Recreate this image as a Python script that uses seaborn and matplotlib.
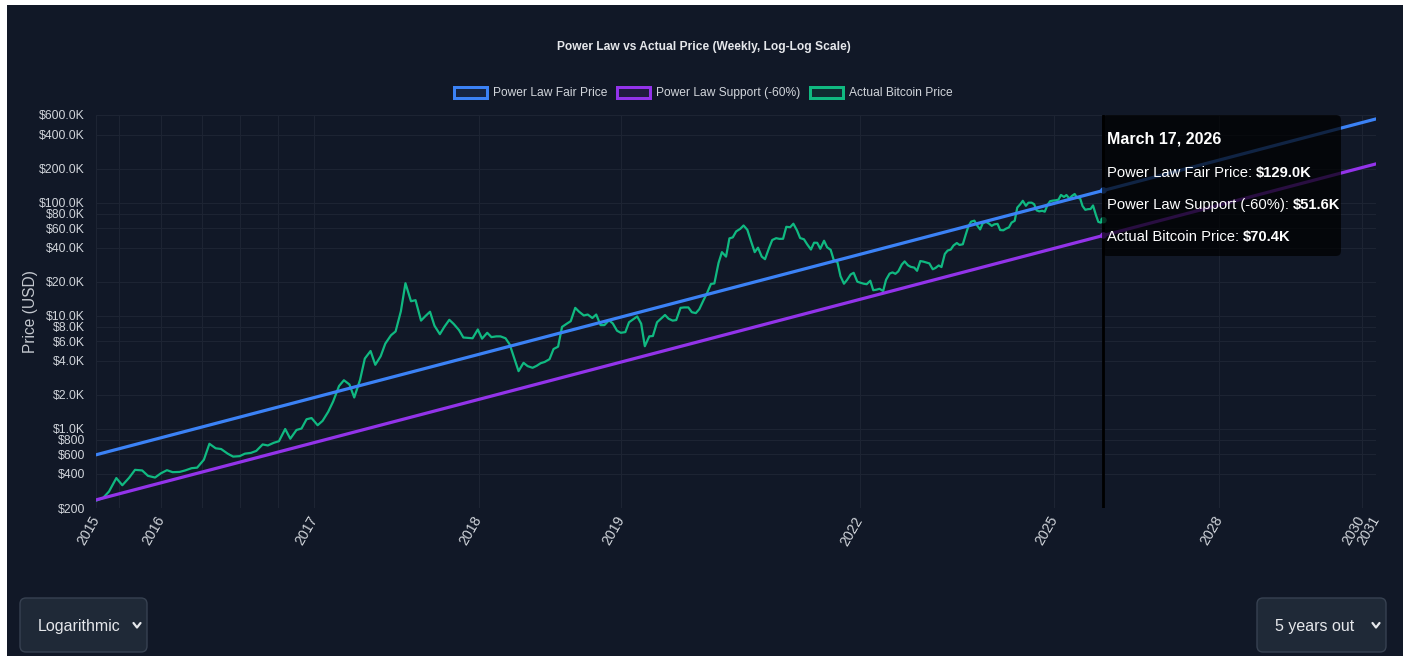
import sys
import numpy as np
import pandas as pd
import matplotlib
matplotlib.use("Agg")
import matplotlib.pyplot as plt
import seaborn as sns
from matplotlib.patches import Rectangle, FancyBboxPatch, Patch
from matplotlib.lines import Line2D
from matplotlib.transforms import IdentityTransform
from matplotlib.ticker import FixedLocator, FixedFormatter, NullFormatter
from matplotlib.colors import to_rgba

# ---------------- data ----------------
GENESIS = "2009-01-03"
TITLE = "Power Law vs Actual Price (Weekly, Log-Log Scale)"
series_names = ["Power Law Fair Price", "Power Law Support (-60%)", "Actual Bitcoin Price"]

# actual weekly-ish BTC price, sampled on the 1st and 15th of each month (USD)
price_2015 = [232, 245, 280, 368, 318, 370, 435]
price_2016 = [430, 385, 372, 405, 432, 415, 417, 430, 450, 455, 535, 740,
              675, 665, 605, 570, 575, 605, 615, 640, 730, 715, 755, 780]
price_2017 = [1000, 820, 980, 1010, 1220, 1250, 1080, 1180, 1420, 1750, 2400, 2700,
              2480, 1900, 2720, 4200, 4900, 3700, 4400, 5700, 6750, 7300, 11000, 19500]
price_2018 = [13500, 13800, 9100, 10000, 10900, 8200, 6900, 8000, 9250, 8500, 7500, 6450,
              6400, 6350, 7600, 6300, 7100, 6500, 6600, 6600, 6350, 5600, 4200, 3250]
price_2019 = [3850, 3600, 3480, 3620, 3820, 3920, 4150, 5100, 5350, 8000, 8550, 9000,
              11800, 10900, 10100, 10300, 9600, 10300, 8300, 8300, 9150, 8600, 7400, 7100]
price_2020 = [7200, 8800, 9400, 9900, 8550, 5400, 6600, 6650, 8800, 9400, 10200, 9450,
              9100, 9200, 11800, 11900, 11900, 10800, 10600, 11500, 13800, 15900, 19200, 19400]
price_2021 = [29400, 36700, 33500, 48600, 49600, 56000, 59000, 63200, 57800, 46800, 36700, 40200,
              33500, 31800, 39800, 47000, 48800, 48100, 48200, 61500, 61000, 65500, 57200, 48900]
price_2022 = [47700, 43100, 38700, 44500, 44400, 39300, 46300, 40500, 38500, 31300, 29800, 22500,
              19300, 20800, 23300, 24100, 20100, 19700, 19300, 19100, 20500, 16900, 17100, 17400]
price_2023 = [16600, 20900, 23700, 24300, 23600, 24800, 28500, 30400, 28100, 27200, 26800, 25100,
              30600, 30300, 29700, 29200, 25900, 26600, 28000, 27100, 35400, 37900, 38700, 42000]
price_2024 = [44200, 42500, 43100, 51800, 62400, 68400, 69700, 63400, 58300, 66200, 67800, 66000,
              62700, 64700, 65300, 57600, 57300, 59200, 60800, 67000, 69500, 91000, 97300, 104500]
price_2025 = [94400, 100500, 100600, 97600, 86000, 84300, 85200, 83700, 96500, 103700, 105000, 105500,
              107000, 117700, 113000, 117500, 109200, 115300, 120000, 111000, 110000, 94000, 87000, 88000]
price_2026 = [88500, 95000, 78000, 68000, 67000, 70400]
actual_start, actual_last_regular, actual_end = "2015-09-15", "2026-03-01", "2026-03-17"

# power-law lines (straight in log-log space)
fair_dates = ["2015-09-15", "2026-03-17", "2031-03-17"]
fair_price = [591, 129000, 554000]
support_price = [236, 51600, 221600]

# hover / tooltip
hover_date = "2026-03-17"
hover_title = "March 17, 2026"
hover_values = [129000, 51600, 70400]
hover_texts = ["$129.0K", "$51.6K", "$70.4K"]

# axis ticks
x_tick_days = [2446, 2600, 3000, 3500, 4000, 5000, 6000, 7000, 8000, 8108]
x_tick_labels = ["2015", "2016", "2017", "2018", "2019", "2022", "2025", "2028", "2030", "2031"]
x_minor_days = [2500, 2700, 2800, 2900]
y_tick_values = [200, 400, 600, 800, 1000, 2000, 4000, 6000, 8000, 10000, 20000,
                 40000, 60000, 80000, 100000, 200000, 400000, 600000]
y_tick_labels = ["$200", "$400", "$600", "$800", "$1.0K", "$2.0K", "$4.0K", "$6.0K", "$8.0K",
                 "$10.0K", "$20.0K", "$40.0K", "$60.0K", "$80.0K", "$100.0K", "$200.0K",
                 "$400.0K", "$600.0K"]
y_limits = [200, 600000]
dropdown_texts = ["Logarithmic", "5 years out"]

# ---------------- build frames ----------------
genesis = pd.Timestamp(GENESIS)
actual_price = (price_2015 + price_2016 + price_2017 + price_2018 + price_2019 + price_2020 +
                price_2021 + price_2022 + price_2023 + price_2024 + price_2025 + price_2026)
actual_dates = list(pd.date_range(actual_start, actual_last_regular, freq="SMS")) + [pd.Timestamp(actual_end)]
n = min(len(actual_dates), len(actual_price))
df_actual = pd.DataFrame({"day": [(d - genesis).days for d in actual_dates[:n]],
                          "price": actual_price[:n]})
fair_days = [(pd.Timestamp(d) - genesis).days for d in fair_dates]
df_lines = pd.DataFrame({"day": fair_days, "fair": fair_price, "support": support_price})
hover_day = (pd.Timestamp(hover_date) - genesis).days

# ---------------- style ----------------
W, H, DPI = 1407, 656, 100
BG = "#111827"
GRID = "#1d2433"
BLUE = "#3b82f6"
PURPLE = "#9333ea"
GREEN = "#10b981"
TXT = "#d1d5db"

sns.set_theme(style="dark")
plt.rcParams["font.family"] = ["Liberation Sans", "DejaVu Sans"]
plt.rcParams["axes.unicode_minus"] = False

def pt(px):
    return px * 72.0 / DPI

def fx(x):
    return x / W

def fy(y):
    return 1 - y / H

fig = plt.figure(figsize=(W / DPI, H / DPI), dpi=DPI, facecolor="white")
fig.patches.append(Rectangle((fx(7), 0), fx(1403) - fx(7), fy(5), transform=fig.transFigure,
                             facecolor=BG, edgecolor="none", zorder=-10))

ax = fig.add_axes([fx(96), fy(508), fx(1376) - fx(96), (508 - 115) / H])
ax.set_facecolor(BG)

sns.lineplot(data=df_actual, x="day", y="price", ax=ax, color=GREEN, lw=1.6,
             estimator=None, sort=False, zorder=2)
sns.lineplot(data=df_lines, x="day", y="support", ax=ax, color=PURPLE, lw=2.3,
             estimator=None, sort=False, zorder=3)
sns.lineplot(data=df_lines, x="day", y="fair", ax=ax, color=BLUE, lw=2.3,
             estimator=None, sort=False, zorder=4)

ax.set_xscale("log")
ax.set_yscale("log")
ax.set_xlim(x_tick_days[0], x_tick_days[-1])
ax.set_ylim(*y_limits)

ax.xaxis.set_major_locator(FixedLocator(x_tick_days))
ax.xaxis.set_major_formatter(FixedFormatter(x_tick_labels))
ax.xaxis.set_minor_locator(FixedLocator(x_minor_days))
ax.xaxis.set_minor_formatter(NullFormatter())
ax.yaxis.set_major_locator(FixedLocator(y_tick_values))
ax.yaxis.set_major_formatter(FixedFormatter(y_tick_labels))
ax.yaxis.set_minor_locator(FixedLocator([]))

ax.grid(True, which="both", axis="x", color=GRID, lw=0.8)
ax.grid(True, which="major", axis="y", color=GRID, lw=0.8)
for s in ax.spines.values():
    s.set_visible(False)
ax.tick_params(axis="x", which="both", length=pt(8), width=0.8, color=GRID, pad=1,
               labelsize=pt(14), labelcolor=TXT)
ax.tick_params(axis="y", which="both", length=0, pad=pt(11), labelsize=pt(12.3), labelcolor=TXT)
for lbl in ax.get_xticklabels():
    lbl.set_rotation(60)
    lbl.set_ha("right")
    lbl.set_va("center")
    lbl.set_rotation_mode("anchor")
ax.set_xlabel("")
ax.set_ylabel("")
leg0 = ax.get_legend()
if leg0 is not None:
    leg0.remove()

# hover line and points
ax.axvline(hover_day, color="black", lw=2, zorder=6)
ax.scatter([hover_day] * 3, hover_values, s=22, c=[BLUE, PURPLE, GREEN], zorder=7, linewidths=0)

# title
fig.text(fx(704), fy(47), TITLE, ha="center", va="center", fontsize=pt(12), fontweight="bold",
         color="#e5e7eb")

# legend
handles = [Patch(facecolor=to_rgba(c, 0.12), edgecolor=c, lw=pt(3)) for c in (BLUE, PURPLE, GREEN)]
fig.legend(handles, series_names, loc="center", bbox_to_anchor=(fx(703), fy(93)), ncol=3,
           frameon=False, fontsize=pt(12), labelcolor=TXT, handlelength=2.8, handleheight=1.1,
           handletextpad=0.45, columnspacing=0.8, borderaxespad=0)

# y label
fig.text(fx(31), fy(312), "Price (USD)", rotation=90, ha="center", va="center",
         fontsize=pt(15.5), color="#c4c8cf")

# tooltip
ident = IdentityTransform()
fig.patches.append(FancyBboxPatch((1102, H - 256), 239, 141, boxstyle="round,pad=0,rounding_size=5",
                                  transform=ident, facecolor=(0, 0, 0, 0.72), edgecolor="none",
                                  zorder=8))
fig.text(fx(1107), fy(144), hover_title, ha="left", va="baseline", fontsize=pt(16),
         fontweight="bold", color="white", zorder=9)
line_y = [177, 209, 241]
for name, val, yy in zip(series_names, hover_texts, line_y):
    t = fig.text(fx(1107), fy(yy), name + ": ", ha="left", va="baseline", fontsize=pt(14.8),
                 color="white", zorder=9)
    ann = matplotlib.text.Annotation(val, xy=(1, 0), xycoords=t, ha="left", va="bottom",
                                     fontsize=pt(14.8), fontweight="bold", color="white", zorder=9)
    ann.set_figure(fig)
    fig.texts.append(ann)

# dropdowns
for (x0, x1), label in zip([(20, 147), (1257, 1386)], dropdown_texts):
    fig.patches.append(FancyBboxPatch((x0, H - 652), x1 - x0, 54, boxstyle="round,pad=0,rounding_size=6",
                                      transform=ident, facecolor="#1f2937", edgecolor="#374151",
                                      lw=1, zorder=2))
    fig.text(fx(x0 + 18), fy(626), label, ha="left", va="center", fontsize=pt(16), color="#e5e7eb",
             zorder=3)
    cx = x1 - 10
    fig.lines.append(Line2D([cx - 3.5, cx, cx + 3.5], [H - 623, H - 627.5, H - 623], transform=ident,
                            color="#e5e7eb", lw=1.6, zorder=3))

fig.savefig("out.png", dpi=DPI, facecolor="white")
